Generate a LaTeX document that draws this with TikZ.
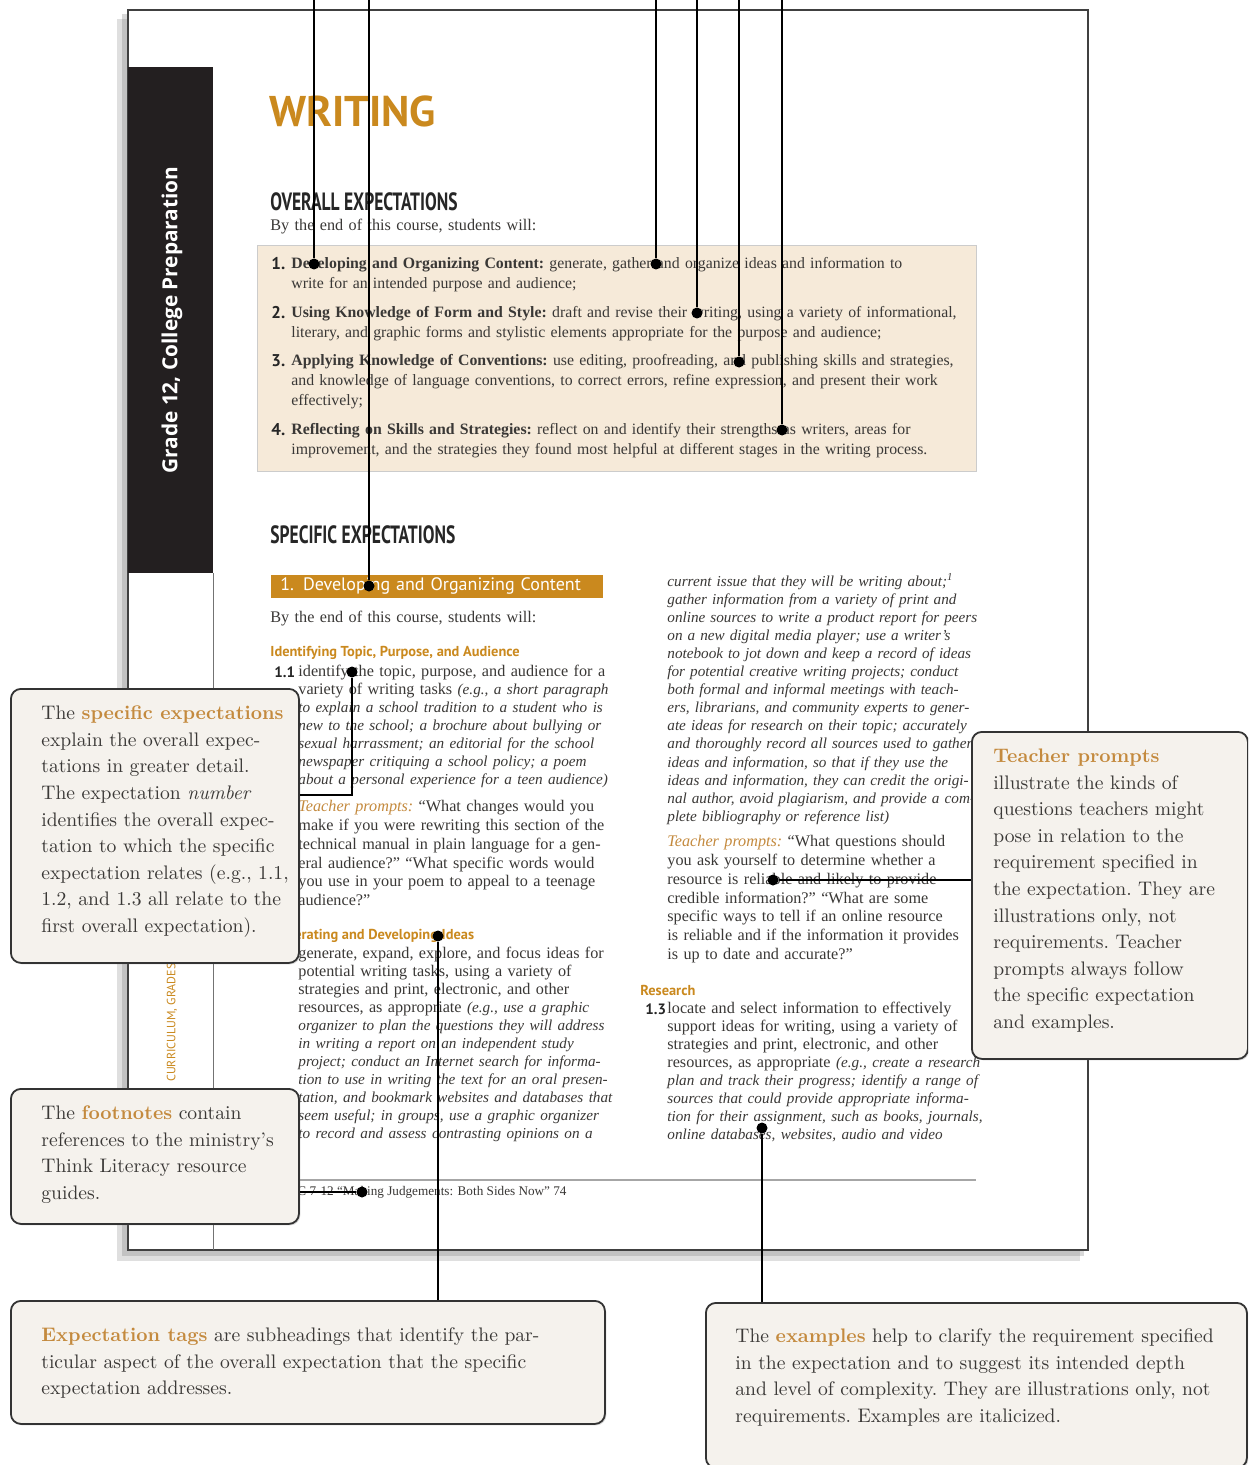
\documentclass[tikz,border=0pt]{standalone}
\usepackage{fontspec}
\setsansfont{PT Sans}
\newfontfamily\sidefont{Open Sans}
\newfontfamily\pagefont[Ligatures=TeX]{Liberation Serif}
\usepackage{graphicx}
\usetikzlibrary{positioning,shadows}

\definecolor{ontorange}{RGB}{202,137,30}
\definecolor{tagorange}{RGB}{196,138,62}
\definecolor{boxbeige}{RGB}{246,234,217}
\definecolor{notefill}{RGB}{245,242,237}
\definecolor{inkgray}{RGB}{58,56,54}
\definecolor{sidebar}{RGB}{35,31,32}

\newcommand{\hilite}[1]{\textbf{\textcolor{tagorange}{#1}}}
\newcommand{\tprompt}{\textit{\textcolor{tagorange}{Teacher prompts:}}}
\newcommand{\eg}[1]{{\fontsize{7.6}{9}\selectfont\itshape #1}}

\tikzset{
  dot/.style={circle,fill=black,inner sep=0pt,minimum size=5.5pt},
  lead/.style={line width=1pt,black},
  note/.style={draw=black!80,line width=.9pt,fill=notefill,rounded corners=5pt,
    inner sep=0pt,anchor=north west,
    drop shadow={shadow xshift=.7pt,shadow yshift=-.7pt,opacity=.3}},
  notetext/.style={anchor=north west,inner sep=0pt,align=left,text=inkgray,
    font=\frenchspacing\fontsize{9.8}{13.3}\selectfont},
  body/.style={anchor=north west,inner sep=0pt,align=left,text=inkgray,
    text width=200pt,font=\pagefont\frenchspacing\fontsize{8.1}{9}\selectfont},
  head/.style={anchor=west,inner sep=0pt,text=black!85,
    font=\sffamily\bfseries\fontsize{12.5}{14}\selectfont},
  tag/.style={anchor=west,inner sep=0pt,text=ontorange,
    font=\sffamily\bfseries\fontsize{7.2}{8}\selectfont},
  num/.style={anchor=west,inner sep=0pt,text=black!85,
    font=\sffamily\bfseries\fontsize{8.5}{10}\selectfont}
}

\begin{document}
\begin{tikzpicture}[x=0.5pt,y=-0.5pt]
\clip (0,0) rectangle (1248,1465);
\coordinate (top) at (0,0);

% page and its shadow
\fill[black!50,opacity=.25] (117,19) rectangle (1080,1261);
\fill[black!50,opacity=.3] (122,14) rectangle (1084,1256);
\filldraw[fill=white,draw=black!75,line width=.8pt] (128,10) rectangle (1088,1250);
\fill[sidebar] (128,67) rectangle (213,573);
\draw[black!55,line width=.5pt] (213,573) -- (213,1250);
\node[rotate=90,text=white,font=\sidefont\bfseries\fontsize{10.4}{12}\selectfont] (grade) at (172,320) {Grade 12, College Preparation};
\node[rotate=90,anchor=east,inner sep=0pt,text=ontorange,font=\sffamily\fontsize{6}{7}\selectfont] (series) at (172,963) {CURRICULUM, GRADES};

% overall expectations
\node[anchor=west,inner sep=0pt,text=ontorange,font=\sffamily\bfseries\fontsize{21.5}{24}\selectfont] (title) at (269,111) {WRITING};
\node[head] (overall) at (270,202) {\scalebox{.7}[1]{OVERALL EXPECTATIONS}};
\node[body] (byend) at (270,219) {By the end of this course, students will:};
\filldraw[fill=boxbeige,draw=black!20] (257,245) rectangle (976,471);
\foreach \k/\y in {1/264,2/313,3/361,4/430}
  \node[num] (n\k) at (271,\y) {\k.};
\node[body,text width=400pt,font=\pagefont\frenchspacing\fontsize{7.9}{10}\selectfont] (oe1) at (291,257) {\textbf{Developing and Organizing Content:} generate, gather and organize ideas and information to\\ write for an intended purpose and audience;};
\node[body,text width=400pt,font=\pagefont\frenchspacing\fontsize{7.9}{10}\selectfont] (oe2) at (291,306) {\textbf{Using Knowledge of Form and Style:} draft and revise their writing, using a variety of informational,\\ literary, and graphic forms and stylistic elements appropriate for the purpose and audience;};
\node[body,text width=400pt,font=\pagefont\frenchspacing\fontsize{7.9}{10}\selectfont] (oe3) at (291,354) {\textbf{Applying Knowledge of Conventions:} use editing, proofreading, and publishing skills and strategies,\\ and knowledge of language conventions, to correct errors, refine expression, and present their work\\ effectively;};
\node[body,text width=400pt,font=\pagefont\frenchspacing\fontsize{7.9}{10}\selectfont] (oe4) at (291,423) {\textbf{Reflecting on Skills and Strategies:} reflect on and identify their strengths as writers, areas for\\ improvement, and the strategies they found most helpful at different stages in the writing process.};

% specific expectations, left column
\node[head] (specific) at (270,535) {\scalebox{.7}[1]{SPECIFIC EXPECTATIONS}};
\node[anchor=west,fill=ontorange,inner xsep=4.5pt,inner ysep=0pt,minimum height=11.5pt,text width=157pt,align=left,text=white,font=\sffamily\fontsize{9}{10}\selectfont] (bar) at (271,586) {1. Developing and Organizing Content};
\node[body] (byend2) at (270,611) {By the end of this course, students will:};
\node[tag] (tagA) at (270,653) {Identifying Topic, Purpose, and Audience};
\node[num,font=\sffamily\bfseries\fontsize{7.5}{9}\selectfont] (n11) at (274,672) {1.1};
\node[body] (se11) at (298,665) {identify the topic, purpose, and audience for a\\ variety of writing tasks \eg{(e.g., a short paragraph\\ to explain a school tradition to a student who is\\ new to the school; a brochure about bullying or\\ sexual harrassment; an editorial for the school\\ newspaper critiquing a school policy; a poem\\ about a personal experience for a teen audience)}};
\node[body,font=\pagefont\frenchspacing\fontsize{8.1}{9.4}\selectfont] (tp11) at (298,800) {\tprompt{} ``What changes would you\\ make if you were rewriting this section of the\\ technical manual in plain language for a gen-\\ eral audience?'' ``What specific words would\\ you use in your poem to appeal to a teenage\\ audience?''};
\node[tag] (tagB) at (270,936) {Generating and Developing Ideas};
\node[body] (se12) at (298,947) {generate, expand, explore, and focus ideas for\\ potential writing tasks, using a variety of\\ strategies and print, electronic, and other\\ resources, as appropriate \eg{(e.g., use a graphic\\ organizer to plan the questions they will address\\ in writing a report on an independent study\\ project; conduct an Internet search for informa-\\ tion to use in writing the text for an oral presen-\\ tation, and bookmark websites and databases that\\ seem useful; in groups, use a graphic organizer\\ to record and assess contrasting opinions on a}};

% right column
\node[body,font=\pagefont\frenchspacing\itshape\fontsize{7.6}{9.05}\selectfont] (ex12) at (667,573) {current issue that they will be writing about;\textsuperscript{1}\\ gather information from a variety of print and\\ online sources to write a product report for peers\\ on a new digital media player; use a writer's\\ notebook to jot down and keep a record of ideas\\ for potential creative writing projects; conduct\\ both formal and informal meetings with teach-\\ ers, librarians, and community experts to gener-\\ ate ideas for research on their topic; accurately\\ and thoroughly record all sources used to gather\\ ideas and information, so that if they use the\\ ideas and information, they can credit the origi-\\ nal author, avoid plagiarism, and provide a com-\\ plete bibliography or reference list)};
\node[body,font=\pagefont\frenchspacing\fontsize{8.1}{9.4}\selectfont] (tp12) at (667,835) {\tprompt{} ``What questions should\\ you ask yourself to determine whether a\\ resource is reliable and likely to provide\\ credible information?'' ``What are some\\ specific ways to tell if an online resource\\ is reliable and if the information it provides\\ is up to date and accurate?''};
\node[tag] (tagC) at (640,990) {Research};
\node[num,font=\sffamily\bfseries\fontsize{7.5}{9}\selectfont] (n13) at (645,1009) {1.3};
\node[body] (se13) at (667,1002) {locate and select information to effectively\\ support ideas for writing, using a variety of\\ strategies and print, electronic, and other\\ resources, as appropriate \eg{(e.g., create a research\\ plan and track their progress; identify a range of\\ sources that could provide appropriate informa-\\ tion for their assignment, such as books, journals,\\ online databases, websites, audio and video}};

% footnote
\draw[black!35,line width=.6pt] (270,1180) -- (976,1180);
\node[anchor=west,inner sep=0pt,text=inkgray,font=\pagefont\fontsize{6.6}{7}\selectfont] (fn) at (289,1192) {TC 7-12 ``Making Judgements: Both Sides Now'' 74};

% callouts
\node[note,minimum width=144pt,minimum height=137pt] (spec) at (10,688) {};
\node[notetext,below right=8.75pt and 15.5pt of spec.north west] (spectext) {The \hilite{specific expectations}\\ explain the overall expec-\\ tations in greater detail.\\ The expectation \textit{number}\\ identifies the overall expec-\\ tation to which the specific\\ expectation relates (e.g., 1.1,\\ 1.2, and 1.3 all relate to the\\ first overall expectation).};
\node[note,minimum width=144pt,minimum height=67.5pt] (foot) at (10,1088) {};
\node[notetext,below right=8.75pt and 15.5pt of foot.north west] (foottext) {The \hilite{footnotes} contain\\ references to the ministry's\\ Think Literacy resource\\ guides.};
\node[note,minimum width=138pt,minimum height=163.5pt] (prompts) at (971,731) {};
\node[notetext,below right=8.75pt and 11pt of prompts.north west] (promptstext) {\hilite{Teacher prompts}\\ illustrate the kinds of\\ questions teachers might\\ pose in relation to the\\ requirement specified in\\ the expectation. They are\\ illustrations only, not\\ requirements. Teacher\\ prompts always follow\\ the specific expectation\\ and examples.};
\node[note,minimum width=297pt,minimum height=61.5pt] (tags) at (10,1300) {};
\node[notetext,below right=13.75pt and 15.5pt of tags.north west] (tagstext) {\hilite{Expectation tags} are subheadings that identify the par-\\ ticular aspect of the overall expectation that the specific\\ expectation addresses.};
\node[note,minimum width=270.5pt,minimum height=82.5pt] (examples) at (705,1302) {};
\node[notetext,below right=13.25pt and 15pt of examples.north west] (examplestext) {The \hilite{examples} help to clarify the requirement specified\\ in the expectation and to suggest its intended depth\\ and level of complexity. They are illustrations only, not\\ requirements. Examples are italicized.};

% leaders from the top edge
\foreach \n/\x/\y in {A/314/264,B/369/586,C/656/264,D/697/313,E/739/362,F/782/430}{
  \node[dot] (d\n) at (\x,\y) {};
  \draw[lead] (d\n) -- (d\n |- top);
}

% leaders to the callouts
\node[dot] (d11) at (352,672) {};
\coordinate (bend11) at (352,795);
\draw[lead] (d11) -- (bend11) -- (bend11 -| spec.east);
\node[dot] (dgen) at (438,936) {};
\draw[lead] (dgen) -- (dgen |- tags.north);
\node[dot] (dfoot) at (362,1192) {};
\draw[lead] (dfoot) -- (dfoot -| foot.east);
\node[dot] (dtp) at (773,880) {};
\draw[lead] (dtp) -- (dtp -| prompts.west);
\node[dot] (dex) at (762,1128) {};
\draw[lead] (dex) -- (dex |- examples.north);

\end{tikzpicture}
\end{document}
